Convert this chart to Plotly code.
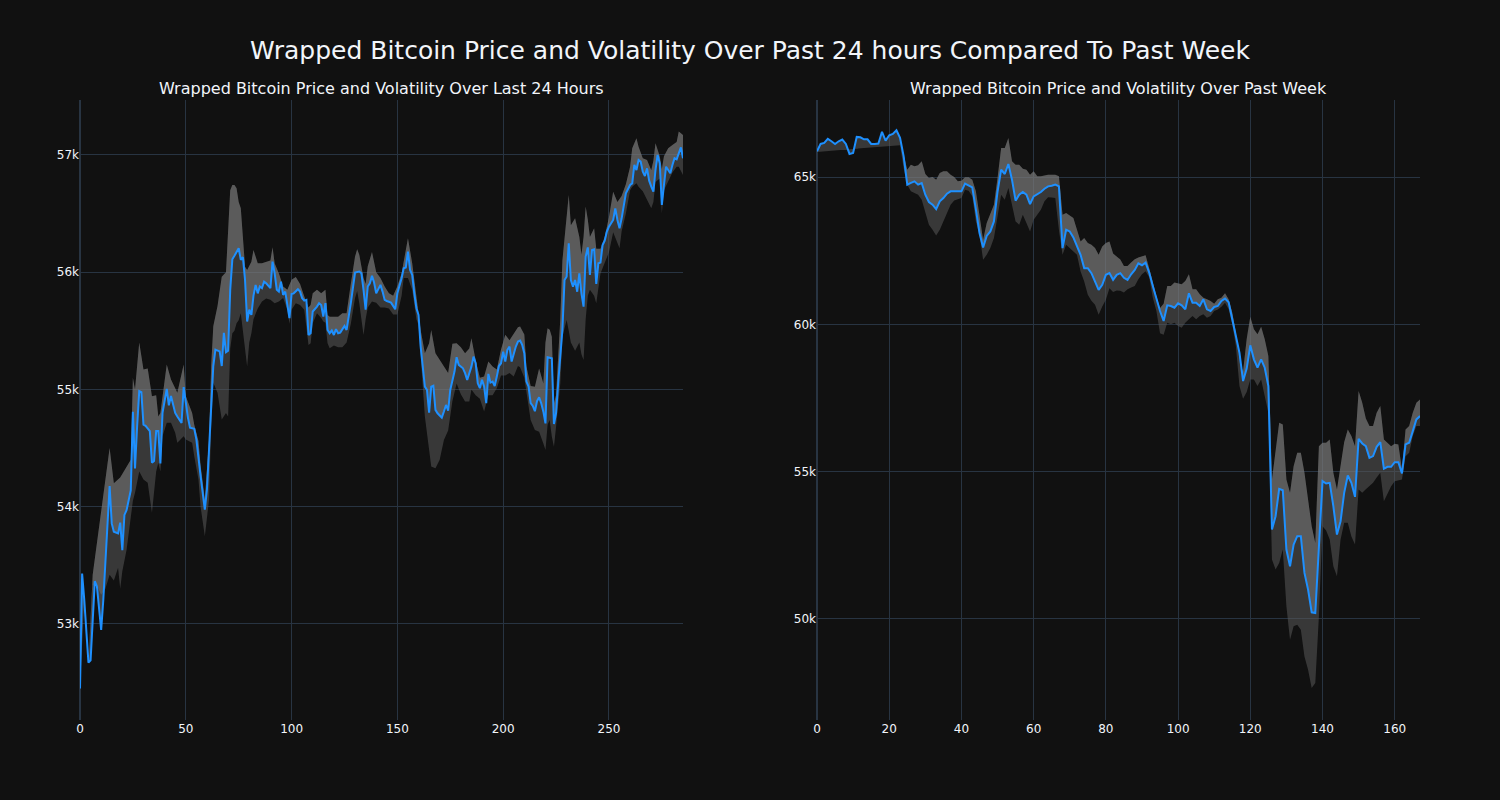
import plotly.graph_objects as go
from plotly.subplots import make_subplots

# ---------------- Past 24 hours (5-minute steps) ----------------
x24 = [0, 1, 2, 4, 5, 7, 8, 10, 11, 12, 13, 14, 15, 16, 18, 19, 20, 21, 22, 24,
       25, 26, 27, 28, 29, 30, 31, 33, 34, 35, 36, 37, 38, 39, 41, 42, 43, 45, 46, 48,
       49, 50, 51, 52, 54, 55, 56, 57, 59, 60, 61, 63, 64, 66, 67, 68, 69, 70, 71, 72,
       73, 74, 75, 76, 77, 78, 79, 80, 81, 82, 83, 84, 85, 86, 87, 88, 90, 91, 92, 93,
       94, 95, 96, 97, 98, 99, 100, 101, 103, 104, 105, 106, 107, 108, 109, 110, 112, 113, 114, 115,
       116, 117, 118, 119, 120, 121, 122, 123, 125, 126, 128, 130, 132, 133, 134, 135, 136, 137, 138, 139,
       140, 141, 142, 143, 144, 145, 147, 149, 150, 152, 153, 154, 155, 156, 157, 158, 159, 160, 161, 163,
       164, 165, 166, 167, 168, 169, 171, 172, 173, 174, 175, 177, 178, 179, 181, 182, 183, 185, 186, 187,
       188, 189, 190, 191, 192, 193, 194, 195, 196, 197, 198, 199, 200, 201, 202, 203, 204, 206, 207, 208,
       209, 210, 211, 212, 213, 214, 215, 216, 217, 218, 219, 220, 221, 222, 223, 224, 225, 226, 228, 229,
       230, 231, 232, 233, 234, 235, 236, 237, 238, 239, 240, 241, 242, 243, 244, 245, 246, 247, 248, 249,
       250, 252, 253, 254, 255, 256, 257, 258, 260, 261, 262, 263, 264, 265, 266, 267, 268, 269, 270, 271,
       272, 273, 274, 275, 276, 277, 278, 279, 280, 281, 282, 283, 284, 285]
price24 = [52450, 53430, 53210, 52670, 52690, 53365, 53320, 52950, 53200, 53500, 53800, 54176, 53858, 53787, 53773, 53864, 53630, 53930, 53970, 54140,
           54810, 54327, 54687, 54986, 54977, 54700, 54690, 54645, 54375, 54390, 54645, 54645, 54370, 54800, 55005, 54865, 54945, 54800, 54770, 54715,
           55020, 54885, 54760, 54675, 54665, 54575, 54400, 54260, 53975, 54147, 54490, 55200, 55340, 55325, 55200, 55483, 55318, 55330, 55850, 56110,
           56140, 56168, 56205, 56105, 56128, 55935, 55580, 55680, 55636, 55800, 55892, 55820, 55878, 55864, 55920, 55906, 55864, 56090, 55990, 55850,
           55835, 55920, 55807, 55835, 55736, 55608, 55815, 55820, 55855, 55835, 55778, 55758, 55764, 55465, 55480, 55665, 55707, 55736, 55721, 55622,
           55736, 55508, 55480, 55503, 55465, 55514, 55480, 55485, 55542, 55508, 55736, 55997, 56006, 55991, 55850, 55680, 55878, 55906, 55969, 55912,
           55820, 55850, 55892, 55835, 55764, 55755, 55741, 55684, 55820, 55949, 56034, 56040, 56176, 56020, 55977, 55820, 55693, 55636, 55366, 55025,
           54996, 54803, 55025, 55033, 54826, 54797, 54760, 54812, 54868, 54820, 54996, 55153, 55275, 55210, 55181, 55139, 55082, 55195, 55280, 55224,
           55053, 55011, 55082, 55025, 54883, 55133, 55059, 55067, 55030, 55110, 55200, 55224, 55323, 55238, 55338, 55366, 55238, 55366, 55409, 55417,
           55380, 55309, 55067, 55025, 54883, 54860, 54815, 54900, 54934, 54882, 54811, 54711, 55274, 55270, 55266, 54706, 54797, 55053, 55507, 55934,
           55962, 56247, 55934, 55877, 55934, 55834, 55990, 55820, 55706, 56133, 56212, 55977, 56190, 56195, 55900, 56076, 56082, 56232, 56269, 56346,
           56389, 56446, 56545, 56446, 56375, 56460, 56574, 56673, 56744, 56758, 56915, 56872, 56957, 56943, 56858, 56821, 56886, 56781, 56730, 56687,
           56872, 57000, 56929, 56574, 56744, 56900, 56872, 56844, 56915, 56972, 56963, 57014, 57065, 56972]

xb24 = [0, 2, 4, 6, 8, 10, 12, 14, 16, 18, 19, 20, 22, 24, 25, 26, 28, 30, 32, 34,
        36, 37, 38, 39, 41, 43, 45, 46, 49, 50, 53, 54, 56, 57, 59, 61, 62, 63, 65, 67,
        69, 70, 71, 72, 73, 74, 75, 76, 77, 78, 79, 80, 81, 82, 84, 86, 88, 90, 91, 92,
        94, 96, 98, 99, 100, 102, 104, 106, 108, 109, 110, 112, 114, 115, 116, 117, 118, 120, 122, 124,
        126, 128, 130, 131, 132, 134, 135, 136, 138, 140, 142, 144, 146, 148, 150, 152, 153, 155, 157, 159,
        160, 161, 163, 165, 166, 168, 170, 172, 174, 176, 178, 180, 182, 184, 185, 187, 189, 191, 193, 195,
        197, 199, 201, 203, 205, 207, 208, 210, 211, 213, 215, 217, 219, 220, 221, 222, 223, 224, 225, 227,
        228, 230, 231, 232, 234, 236, 237, 238, 239, 240, 241, 243, 244, 246, 248, 250, 252, 254, 255, 256,
        258, 260, 261, 263, 264, 266, 268, 270, 271, 272, 274, 275, 276, 278, 280, 282, 283, 285]
upper24 = [52450, 53210, 52670, 53420, 53690, 53960, 54230, 54500, 54200, 54230, 54250, 54280, 54340, 54400, 55100, 55000, 55400, 55170, 55180, 54943,
           54950, 54770, 54800, 54950, 55213, 55085, 55000, 54972, 55213, 54943, 54800, 54700, 54560, 54350, 54062, 54573, 55200, 55540, 55711, 55962,
           56000, 56300, 56700, 56745, 56745, 56716, 56600, 56546, 56333, 56047, 56020, 56062, 56090, 56190, 56077, 56077, 56090, 56100, 56213, 56077,
           55990, 55878, 55850, 55900, 55935, 55960, 55900, 55792, 55700, 55720, 55820, 55850, 55820, 55835, 55850, 55636, 55620, 55620, 55620, 55650,
           55650, 55900, 56134, 56196, 56150, 55950, 55900, 56050, 56173, 56000, 55950, 55878, 55820, 55800, 55880, 55991, 56100, 56290, 56077, 55764,
           55650, 55508, 55309, 55394, 55508, 55309, 55250, 55195, 55140, 55390, 55394, 55360, 55309, 55350, 55437, 55250, 55100, 55110, 55238, 55196,
           55170, 55340, 55466, 55420, 55480, 55530, 55537, 55470, 55195, 55030, 55024, 55180, 55050, 55400, 55522, 55510, 55450, 54882, 54950, 55600,
           56100, 56450, 56659, 56400, 56460, 56300, 56150, 56300, 56560, 56450, 56300, 56375, 56200, 56200, 56300, 56470, 56687, 56600, 56630, 56650,
           56750, 56900, 57057, 57142, 57070, 56972, 56958, 56870, 56950, 57100, 56990, 56880, 56990, 57057, 57085, 57110, 57200, 57170]
lower24 = [52450, 53210, 52670, 53330, 53330, 53250, 53300, 53420, 53370, 53480, 53300, 53450, 53630, 53900, 54050, 54120, 54300, 54232, 54204, 53948,
           54300, 54375, 54300, 54602, 54716, 54716, 54630, 54545, 54602, 54573, 54545, 54430, 54233, 54000, 53749, 54062, 54687, 55057, 54972, 54744,
           54800, 54770, 55350, 55480, 55500, 55564, 55590, 55650, 55500, 55300, 55195, 55400, 55480, 55600, 55690, 55750, 55775, 55765, 55750, 55735,
           55750, 55780, 55680, 55560, 55680, 55735, 55720, 55680, 55380, 55395, 55565, 55650, 55610, 55580, 55570, 55395, 55352, 55375, 55360, 55360,
           55400, 55560, 55780, 55840, 55735, 55465, 55600, 55700, 55750, 55740, 55700, 55700, 55690, 55640, 55640, 55800, 55950, 55950, 55850, 55600,
           55550, 55300, 54769, 54485, 54343, 54328, 54400, 54570, 54650, 54900, 55050, 54960, 54897, 54897, 55000, 54950, 54920, 54812, 54950, 54950,
           55010, 55120, 55120, 55140, 55110, 55200, 55190, 55100, 54980, 54740, 54654, 54640, 54540, 54484, 54700, 54740, 54600, 54512, 54680, 55050,
           55450, 55593, 55500, 55400, 55330, 55400, 55300, 55252, 55600, 55800, 55850, 55800, 55735, 55990, 56080, 56170, 56340, 56250, 56204, 56350,
           56500, 56700, 56730, 56758, 56730, 56690, 56620, 56545, 56600, 56770, 56800, 56503, 56700, 56770, 56850, 56900, 56900, 56830]

# ---------------- Past week (hourly steps) ----------------
xw = list(range(168))
price_w = [65872, 66122, 66156, 66292, 66213, 66122, 66213, 66269, 66122, 65782,
           65816, 66360, 66348, 66280, 66280, 66122, 66122, 66133, 66530, 66235,
           66416, 66462, 66586, 66326, 65700, 64740, 64800, 64853, 64740, 64796,
           64400, 64150, 64060, 63912, 64173, 64286, 64434, 64513, 64513, 64513,
           64513, 64773, 64717, 64649, 63900, 63100, 62609, 63000, 63153, 63493,
           64500, 65249, 65102, 65442, 64909, 64196, 64400, 64490, 64400, 64082,
           64343, 64422, 64490, 64603, 64683, 64705, 64740, 64683, 62587, 63210,
           63153, 62949, 62677, 62360, 61907, 61907, 61737, 61476, 61170, 61340,
           61680, 61737, 61510, 61680, 61737, 61580, 61506, 61699, 61846, 62072,
           62005, 62095, 61755, 61302, 60849, 60453, 60113, 60646, 60623, 60566,
           60713, 60646, 60510, 61053, 60736, 60736, 60623, 60849, 60510, 60453,
           60589, 60623, 60793, 60872, 60750, 60170, 59547, 59037, 58075, 58500,
           59287, 58811, 58528, 58811, 58528, 57905, 53035, 53488, 54417, 54371,
           52356, 51789, 52526, 52809, 52809, 51563, 50997, 50227, 50204, 52696,
           54678, 54598, 54621, 53828, 52865, 53318, 54281, 54870, 54621, 54145,
           56116, 55957, 55866, 55470, 55527, 55844, 56002, 55097, 55164, 55164,
           55323, 55323, 54940, 55925, 55980, 56376, 56773, 56886]
upper_w = [65872, 66122, 66156, 66292, 66213, 66122, 66213, 66269, 66122, 65782,
           65816, 66360, 66348, 66280, 66280, 66122, 66122, 66133, 66530, 66235,
           66416, 66462, 66586, 66326, 65750, 65249, 65419, 65363, 65400, 65532,
           65102, 64966, 65000, 64909, 65136, 65193, 65193, 65079, 65000, 64853,
           64875, 64989, 64989, 64909, 64513, 63720, 62870, 63436, 63720, 64060,
           64970, 65986, 65986, 66326, 65532, 65419, 65419, 65283, 65250, 65079,
           65193, 65023, 65023, 65050, 65079, 65079, 65079, 65023, 63720, 63776,
           63700, 63606, 63210, 62813, 62927, 62757, 62700, 62587, 62360, 62643,
           62757, 62813, 62400, 62300, 62200, 61982, 61982, 62100, 62208, 62265,
           62300, 62344, 61900, 61400, 60950, 60550, 60700, 61302, 61302, 61416,
           61400, 61359, 61472, 61699, 61189, 61189, 61019, 60906, 60849, 60793,
           60700, 60850, 60906, 61053, 60849, 60400, 59717, 58698, 58400, 59500,
           60260, 59830, 59660, 59921, 59490, 58924, 54734, 55640, 56659, 56602,
           54734, 54281, 55187, 55640, 55640, 54960, 54054, 53148, 52582, 55866,
           55980, 55980, 56093, 54960, 54394, 55187, 56000, 56433, 56206, 55866,
           57735, 57339, 56800, 56546, 56546, 57000, 57225, 56093, 55980, 55866,
           55950, 55920, 55073, 56433, 56546, 57000, 57339, 57452]
lower_w = [65850, 65862, 65870, 65881, 65890, 65902, 65910, 65921, 65930, 65942,
           65950, 65961, 65970, 65982, 65990, 66001, 66010, 66022, 66030, 66041,
           66050, 66061, 66070, 66080, 65300, 64740, 64513, 64456, 64400, 64230,
           63833, 63380, 63210, 63017, 63210, 63493, 63776, 64060, 64200, 64230,
           64286, 64569, 64535, 64343, 63493, 63040, 62190, 62360, 62587, 62927,
           63663, 64400, 64230, 64626, 64060, 63493, 63380, 63720, 63436, 63153,
           63550, 63720, 63890, 64173, 64309, 64300, 64286, 63200, 62360, 62700,
           62587, 62450, 62360, 61794, 61454, 61000, 60800, 60661, 60321, 60604,
           60831, 61227, 61100, 61150, 61140, 61076, 61190, 61250, 61302, 61529,
           61700, 61800, 61600, 60900, 60450, 59700, 59650, 60057, 60000, 60057,
           59943, 59887, 60057, 60170, 60283, 60170, 60283, 60340, 60226, 60283,
           60453, 60500, 60600, 60736, 60510, 60000, 59264, 57905, 57475, 57700,
           58131, 58131, 57905, 58131, 57565, 56999, 52016, 51676, 51903, 52356,
           50430, 49298, 49751, 49807, 49637, 48731, 48279, 47656, 47826, 50091,
           53148, 53000, 52695, 51789, 51450, 52695, 53262, 53262, 52800, 52526,
           54394, 54281, 54400, 54507, 54621, 54800, 54960, 53998, 54281, 54507,
           54677, 54700, 54734, 55527, 55640, 56206, 56546, 56546]

title_main = "Wrapped Bitcoin Price and Volatility Over Past 24 hours Compared To Past Week"
title_left = "Wrapped Bitcoin Price and Volatility Over Last 24 Hours"
title_right = "Wrapped Bitcoin Price and Volatility Over Past Week"

LINE = "#1e90ff"
DARK_FILL = "rgba(90,90,90,0.55)"
LIGHT_FILL = "rgba(150,150,150,0.38)"
FONT = "DejaVu Sans"

fig = make_subplots(rows=1, cols=2, subplot_titles=(title_left, title_right),
                    horizontal_spacing=0.1)


def add_panel(col, xp, yp, xb, up, lo):
    nofill = dict(width=0, color="rgba(0,0,0,0)")
    fig.add_trace(go.Scatter(x=xb, y=up, mode="lines", line=nofill,
                             hoverinfo="skip", showlegend=False), row=1, col=col)
    fig.add_trace(go.Scatter(x=xb, y=lo, mode="lines", line=nofill, fill="tonexty",
                             fillcolor=DARK_FILL, hoverinfo="skip", showlegend=False),
                  row=1, col=col)
    fig.add_trace(go.Scatter(x=xb, y=up, mode="lines", line=nofill,
                             hoverinfo="skip", showlegend=False), row=1, col=col)
    fig.add_trace(go.Scatter(x=xp, y=yp, mode="lines", fill="tonexty",
                             fillcolor=LIGHT_FILL, line=dict(color=LINE, width=2),
                             name="Price", showlegend=False), row=1, col=col)


add_panel(1, x24, price24, xb24, upper24, lower24)
add_panel(2, xw, price_w, xw, upper_w, lower_w)

fig.update_layout(
    template="plotly_dark",
    width=1500, height=800,
    font=dict(family=FONT),
    title=dict(text=title_main, x=0.5, xanchor="center", y=0.9375, yanchor="middle",
               yref="container", font=dict(size=25, family=FONT)),
    showlegend=False,
    margin=dict(l=80, r=80, t=100, b=80),
)
for ann in fig.layout.annotations:
    ann.font = dict(size=16, family=FONT)

fig.update_xaxes(range=[0, 285], row=1, col=1)
fig.update_yaxes(range=[52181, 57469], row=1, col=1)
fig.update_xaxes(range=[0, 167], row=1, col=2)
fig.update_yaxes(range=[46572, 67613], row=1, col=2)

fig.write_html("out.html", config={"displayModeBar": False},
               post_script="document.body.style.margin='0';")
